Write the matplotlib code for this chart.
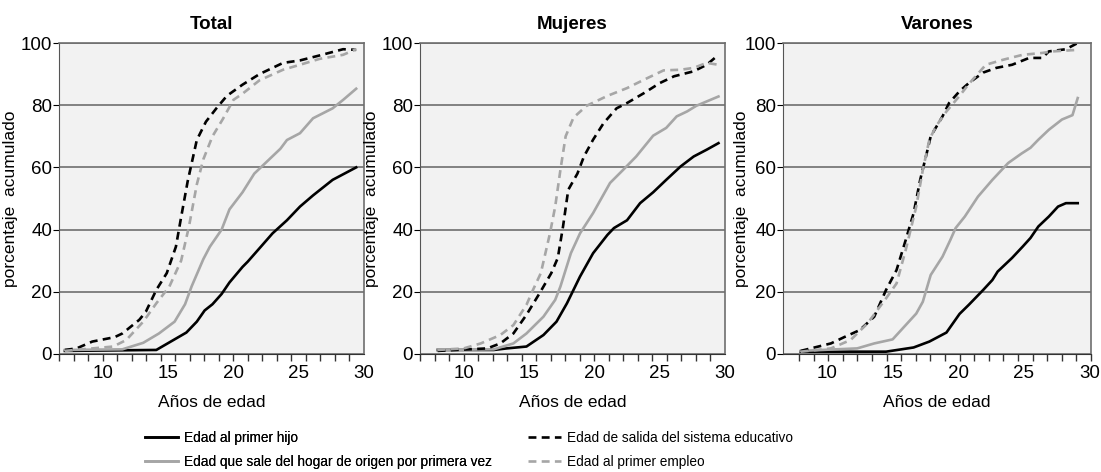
import numpy as np
import matplotlib.pyplot as plt
from matplotlib.lines import Line2D

plt.rcParams['font.family'] = ['Liberation Sans', 'DejaVu Sans']

titles = ["Total", "Mujeres", "Varones"]
labels = ["Edad al primer hijo",
          "Edad que sale del hogar de origen por primera vez",
          "Edad de salida del sistema educativo",
          "Edad al primer empleo"]

# Total
tot_hijo_x = [7.1, 14.1, 16.4, 17.2, 17.8, 18.4, 19.1, 19.7, 20.7, 21.1, 22.0, 23.0, 24.1, 25.1, 26.1, 27.6, 29.4]
tot_hijo_y = [1, 1.3, 6.9, 10.4, 14, 16, 19.3, 23, 28, 29.7, 34, 38.8, 43, 47.4, 51, 56, 60]
tot_hogar_x = [7.1, 11.5, 13.1, 14.3, 15.5, 16.3, 16.8, 17.7, 18.2, 19.1, 19.7, 20.7, 21.6, 22.5, 23.6, 24.1, 25.1, 26.1, 27.6, 28.4, 29.4]
tot_hogar_y = [1.3, 1.5, 3.6, 6.6, 10.4, 16, 21.7, 30.5, 34.5, 40, 46.5, 52, 58, 61.6, 66, 68.8, 71, 75.8, 79, 81.7, 85.3]
tot_educ_x = [7.1, 8.0, 9.2, 10.9, 11.5, 12.8, 13.3, 14.1, 14.9, 15.6, 16.0, 16.5, 17.2, 17.9, 18.7, 19.5, 20.7, 22.0, 23.8, 25.1, 26.6, 28.4, 29.4]
tot_educ_y = [1.3, 1.8, 4, 5.4, 6.6, 11, 13.6, 20.6, 26, 34.5, 44, 55.5, 68.8, 74.7, 79, 83, 86.6, 90, 93.6, 94.4, 96, 98, 97.8]
tot_empleo_x = [7.1, 10.8, 11.8, 13.1, 14.1, 15.1, 16.0, 16.6, 17.2, 17.7, 18.4, 19.2, 20.0, 20.7, 22.0, 23.8, 25.1, 26.6, 28.4, 29.4]
tot_empleo_y = [1, 2.4, 4.5, 10.4, 16.3, 21.7, 30, 41, 54.5, 62.6, 70, 75.6, 81.7, 83.7, 88, 91.4, 93, 94.9, 96.2, 98]

# Mujeres
muj_hijo_x = [8.0, 12.3, 13.3, 14.8, 16.1, 17.1, 17.9, 18.9, 19.9, 21.0, 21.5, 22.5, 23.5, 24.5, 25.5, 26.6, 27.6, 28.6, 29.5]
muj_hijo_y = [1.3, 1.3, 1.8, 2.4, 6.1, 10.4, 16.3, 24.9, 32.4, 38.3, 40.5, 43, 48.5, 52, 56, 60.3, 63.5, 65.7, 67.8]
muj_hogar_x = [8.0, 12.3, 13.8, 14.8, 16.1, 17.0, 17.4, 18.2, 18.9, 19.9, 21.2, 22.2, 23.2, 24.5, 25.5, 26.3, 27.1, 27.8, 29.5]
muj_hogar_y = [1.3, 1.5, 3.4, 6.6, 12, 17.4, 21.7, 32.4, 38.8, 45.3, 55, 59.2, 63.5, 70.2, 72.7, 76.4, 78, 79.8, 82.8]
muj_educ_x = [8.0, 11.8, 12.8, 13.8, 14.8, 15.8, 16.7, 17.2, 17.6, 18.0, 18.7, 19.2, 19.9, 20.7, 21.7, 22.5, 23.8, 25.0, 26.1, 27.6, 28.6, 29.5]
muj_educ_y = [1, 1.8, 3.4, 6.6, 12.6, 19.5, 26, 30.9, 41, 52.8, 58, 63.5, 68.9, 74.2, 79, 80.7, 83.9, 87.1, 89.3, 90.9, 93, 96.2]
muj_empleo_x = [8.0, 10.0, 11.3, 12.8, 13.8, 14.8, 15.3, 15.9, 16.6, 17.0, 17.4, 17.8, 18.4, 19.4, 21.0, 22.5, 23.8, 25.3, 26.6, 27.6, 28.6, 29.5]
muj_empleo_y = [1.3, 1.8, 3.4, 6.1, 9.3, 15.8, 20.6, 26, 38.8, 47.4, 59.2, 70, 76, 79.8, 83, 85.5, 88.2, 91.2, 91.4, 92, 93.6, 93]

# Varones
var_hijo_x = [8.0, 14.5, 16.6, 17.8, 19.1, 20.1, 20.8, 21.9, 22.6, 23.0, 24.1, 24.9, 25.5, 26.1, 26.9, 27.6, 28.2, 29.1]
var_hijo_y = [0.75, 0.75, 2.1, 4, 6.9, 12.9, 15.8, 20.6, 23.8, 26.5, 30.9, 34.5, 37.3, 41, 44.2, 47.4, 48.5, 48.5]
var_hogar_x = [8.0, 12.3, 13.6, 15.0, 16.8, 17.3, 17.9, 18.8, 19.4, 19.8, 20.5, 21.5, 22.6, 23.8, 24.8, 25.5, 26.1, 26.9, 27.9, 28.7, 29.1]
var_hogar_y = [1, 1.8, 3.4, 4.7, 13, 16.8, 25.4, 31.3, 36.7, 40.5, 44.2, 50.6, 56, 61.4, 64.4, 66.3, 68.9, 72.1, 75.4, 76.8, 82.3]
var_educ_x = [8.0, 10.3, 11.3, 12.5, 13.6, 14.5, 15.3, 16.0, 16.6, 17.1, 17.6, 17.9, 18.8, 19.3, 20.1, 20.8, 21.9, 22.9, 24.1, 25.4, 26.4, 26.9, 28.2, 29.1]
var_educ_y = [1, 3.4, 5.4, 7.7, 12, 20.6, 27, 36.7, 45.3, 56, 64.6, 70, 76.4, 80.7, 84.5, 87.1, 90.5, 92, 93, 95.2, 95.2, 97.3, 98, 100]
var_empleo_x = [8.0, 10.3, 11.8, 13.1, 14.5, 15.3, 16.0, 16.8, 17.3, 17.8, 18.3, 19.1, 20.1, 20.8, 22.1, 23.4, 24.9, 26.4, 27.2, 29.1]
var_empleo_y = [0.75, 1.8, 4.5, 9.9, 17.9, 22.7, 33.5, 47.4, 59.2, 68.9, 73.2, 78, 83, 86.8, 93, 94.6, 96.2, 96.8, 97.3, 97.8]

panels = [
    [(tot_hijo_x, tot_hijo_y), (tot_hogar_x, tot_hogar_y), (tot_educ_x, tot_educ_y), (tot_empleo_x, tot_empleo_y)],
    [(muj_hijo_x, muj_hijo_y), (muj_hogar_x, muj_hogar_y), (muj_educ_x, muj_educ_y), (muj_empleo_x, muj_empleo_y)],
    [(var_hijo_x, var_hijo_y), (var_hogar_x, var_hogar_y), (var_educ_x, var_educ_y), (var_empleo_x, var_empleo_y)],
]

black = "#000000"
grey = "#a6a6a6"
styles = [dict(color=black, ls="-"), dict(color=grey, ls="-"),
          dict(color=black, ls=(0, (3, 2))), dict(color=grey, ls=(0, (3, 2)))]

W, H = 1101, 472
fig = plt.figure(figsize=(W / 100, H / 100), dpi=100)
lefts = [59, 420, 783]
rights = [364, 725, 1091]
ylab_off = [-41, -41, -34]
xmin = 6.65

for i in range(3):
    ax = fig.add_axes([lefts[i] / W, 1 - 354 / H, (rights[i] - lefts[i]) / W, (354 - 43) / H])
    ax.set_facecolor("#f2f2f2")
    for (x, y), st in zip(panels[i], styles):
        ax.plot(x, y, lw=1.9, **st)
    ax.set_xlim(xmin, 30)
    ax.set_ylim(0, 100)
    ax.set_yticks([0, 20, 40, 60, 80, 100])
    ax.yaxis.grid(True, color="#6e6e6e", lw=1.2)
    ax.set_axisbelow(True)
    ax.set_xticks([10, 15, 20, 25, 30])
    minor = np.linspace(xmin, 30, 22)
    if i == 2:
        minor = minor[1:] + (minor[1] - minor[0]) * 0.1
    ax.set_xticks(minor, minor=True)
    ax.tick_params(axis="x", which="major", length=0, labelsize=13.5, pad=8)
    ax.tick_params(axis="x", which="minor", length=5, width=1, color="#333333")
    ax.tick_params(axis="y", length=4, labelsize=13.5, pad=1)
    for s in ["top", "right"]:
        ax.spines[s].set_color("#6e6e6e")
        ax.spines[s].set_linewidth(1.2)
    ax.spines["left"].set_color("#555555")
    ax.spines["bottom"].set_color("#333333")
    ax.set_xlabel("Años de edad", fontsize=12.5, labelpad=9)
    ax.set_ylabel("porcentaje  acumulado", fontsize=12.5)
    ax.yaxis.set_label_coords(ylab_off[i] / (rights[i] - lefts[i]), 0.5)
    ax.set_title(titles[i], fontsize=13.5, fontweight="bold", pad=10)

handles = [Line2D([], [], lw=1.9, **st) for st in styles]
common = dict(loc="upper left", frameon=False, fontsize=9.8, handlelength=2.45,
              handletextpad=0.4, labelspacing=0.72, borderpad=0, borderaxespad=0)
leg1 = fig.legend(handles[:2], labels[:2], bbox_to_anchor=(145 / W, 1 - 431 / H), **common)
fig.add_artist(leg1)
fig.legend(handles[2:], labels[2:], bbox_to_anchor=(528 / W, 1 - 431 / H), **common)

fig.savefig("out.png", dpi=100)
